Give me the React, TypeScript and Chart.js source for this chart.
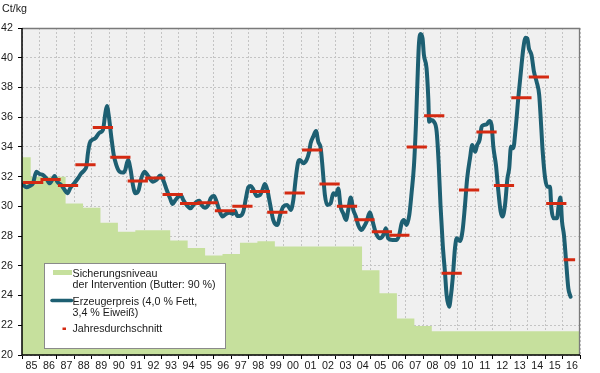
import React, { useEffect, useRef } from 'react';
import { Chart, registerables } from 'chart.js';

Chart.register(...registerables);

// ---- data ----
const yearLabels = ['85','86','87','88','89','90','91','92','93','94','95','96','97','98','99','00','01','02','03','04','05','06','07','08','09','10','11','12','13','14','15','16'];
const firstYear = 1985;
const lastYear = 2017;

// intervention support level (step changes, [year, Ct/kg])
const supportLevel: number[][] = [
  [1985.0, 33.3], [1985.5, 32.0], [1987.5, 30.2], [1988.5, 29.9], [1989.5, 28.9],
  [1990.5, 28.3], [1991.5, 28.4], [1993.5, 27.7], [1994.5, 27.2], [1995.5, 26.7],
  [1996.5, 26.8], [1997.5, 27.55], [1998.5, 27.65], [1999.5, 27.3], [2004.5, 25.7],
  [2005.5, 24.15], [2006.5, 22.45], [2007.5, 21.95], [2008.5, 21.6], [2017.0, 21.6],
];

// producer price ([year, Ct/kg])
const producerPrice: number[][] = [
  [1985.0,31.45],[1985.06,31.44],[1985.25,31.28],[1985.44,31.37],[1985.63,31.55],[1985.82,32.33],
  [1986.01,32.18],[1986.2,32.11],[1986.39,31.89],[1986.59,31.55],[1986.78,31.89],[1986.87,32.04],
  [1987.02,31.66],[1987.25,31.44],[1987.45,31.1],[1987.6,30.88],[1987.79,31.28],[1988.02,31.59],
  [1988.21,31.89],[1988.4,32.22],[1988.59,32.45],[1988.69,32.67],[1988.78,33.57],[1988.88,34.24],
  [1989.01,34.46],[1989.2,34.58],[1989.45,34.96],[1989.64,35.14],[1989.78,36.26],[1989.87,36.75],
  [1989.97,36.15],[1990.12,34.69],[1990.26,33.46],[1990.41,32.78],[1990.6,32.33],[1990.79,32.27],
  [1990.92,32.45],[1991.08,33.12],[1991.23,32.45],[1991.36,31.44],[1991.5,30.88],[1991.69,31.1],
  [1991.84,31.89],[1992.03,32.33],[1992.26,32.0],[1992.51,31.66],[1992.7,31.77],[1992.93,32.08],
  [1993.1,31.77],[1993.3,31.1],[1993.49,30.54],[1993.64,30.16],[1993.77,30.38],[1993.96,30.65],
  [1994.1,30.76],[1994.25,30.43],[1994.44,30.09],[1994.67,29.87],[1994.82,30.09],[1995.02,30.31],
  [1995.17,30.38],[1995.3,30.09],[1995.49,29.91],[1995.68,30.09],[1995.82,30.54],[1996.01,30.7],
  [1996.16,30.31],[1996.31,29.76],[1996.5,29.31],[1996.7,29.49],[1996.89,29.57],[1997.08,29.49],
  [1997.21,29.71],[1997.35,29.35],[1997.5,29.35],[1997.69,29.64],[1997.84,30.54],[1997.98,31.28],
  [1998.11,31.37],[1998.26,31.15],[1998.46,30.7],[1998.65,30.76],[1998.8,31.15],[1998.93,31.5],
  [1999.07,31.1],[1999.22,30.2],[1999.41,29.08],[1999.64,28.75],[1999.83,29.53],[1999.98,29.98],
  [2000.21,30.09],[2000.41,29.76],[2000.56,30.43],[2000.71,32.0],[2000.84,33.0],[2000.94,33.12],
  [2001.04,33.0],[2001.13,32.9],[2001.32,33.12],[2001.47,33.68],[2001.55,34.24],[2001.7,34.69],
  [2001.86,35.07],[2001.99,34.35],[2002.13,33.91],[2002.24,32.56],[2002.37,30.76],[2002.5,30.09],
  [2002.7,30.2],[2002.85,30.88],[2003.0,30.76],[2003.14,31.21],[2003.27,29.98],[2003.42,29.53],
  [2003.58,29.08],[2003.71,29.76],[2003.85,30.59],[2004.0,29.76],[2004.15,29.31],[2004.28,28.75],
  [2004.48,28.41],[2004.61,28.63],[2004.76,28.97],[2004.95,29.6],[2005.11,28.97],[2005.3,28.19],
  [2005.53,27.85],[2005.72,28.07],[2005.87,28.52],[2006.0,27.85],[2006.25,27.74],[2006.48,27.74],
  [2006.63,28.07],[2006.77,28.86],[2006.9,29.08],[2007.06,28.75],[2007.21,29.42],[2007.34,30.88],
  [2007.48,32.78],[2007.59,35.47],[2007.67,38.16],[2007.76,40.86],[2007.86,41.6],[2007.97,41.3],
  [2008.05,40.18],[2008.2,39.29],[2008.3,37.27],[2008.35,35.7],[2008.49,35.81],[2008.62,35.7],
  [2008.78,35.02],[2008.9,32.78],[2009.0,30.09],[2009.13,27.4],[2009.26,25.5],[2009.35,24.04],
  [2009.5,23.25],[2009.58,23.81],[2009.7,25.16],[2009.83,27.18],[2009.93,27.85],[2010.12,27.67],
  [2010.27,28.41],[2010.39,29.87],[2010.53,31.89],[2010.69,33.23],[2010.82,34.13],[2010.99,33.68],
  [2011.1,34.13],[2011.24,34.46],[2011.36,35.36],[2011.47,35.47],[2011.65,35.52],[2011.8,35.74],
  [2011.93,35.47],[2012.03,34.01],[2012.18,32.78],[2012.32,30.99],[2012.45,29.64],[2012.56,29.31],
  [2012.7,30.09],[2012.84,31.89],[2012.94,32.56],[2013.04,34.01],[2013.17,33.91],[2013.31,35.25],
  [2013.46,37.27],[2013.61,39.06],[2013.75,40.63],[2013.88,41.35],[2013.98,41.3],[2014.07,40.63],
  [2014.22,40.18],[2014.36,39.06],[2014.51,38.39],[2014.66,37.49],[2014.77,35.47],[2014.86,33.68],
  [2015.0,31.89],[2015.12,31.32],[2015.28,31.32],[2015.36,29.87],[2015.48,29.2],[2015.68,29.2],
  [2015.78,30.09],[2015.88,30.59],[2015.97,28.97],[2016.08,28.07],[2016.19,26.5],[2016.33,24.49],
  [2016.46,23.92],
];

// annual averages, one per year label
const annualAverage = [31.6,31.8,31.4,32.8,35.3,33.3,31.7,31.9,30.8,30.2,30.25,29.7,30.0,31.0,29.6,30.9,33.8,31.5,30.0,29.1,28.3,28.05,34.0,36.1,25.5,31.1,35.0,31.4,37.3,38.7,30.2,26.4];

const unitLabel = 'Ct/kg';
const legendSupport = ['Sicherungsniveau', 'der Intervention (Butter: 90 %)'];
const legendPrice = ['Erzeugerpreis (4,0 % Fett,', '3,4 % Eiweiß)'];
const legendAverage = ['Jahresdurchschnitt'];

// ---- styles ----
const GREEN = '#c6e09d';
const BLUE = '#1d5f72';
const RED = '#d42a12';
const FONT_FAMILY = '"Liberation Sans", Arial, sans-serif';
const FONT_SIZE = 10.7;

const framePlugin = {
  id: 'frame',
  beforeDraw(chart: any) {
    const { ctx, chartArea: a } = chart;
    ctx.save();
    ctx.fillStyle = '#f0f0f0';
    ctx.fillRect(a.left, a.top, a.right - a.left, a.bottom - a.top);
    ctx.restore();
  },
  afterDraw(chart: any) {
    const { ctx, chartArea: a } = chart;
    ctx.save();
    // top & right frame
    ctx.strokeStyle = '#7a7a7a';
    ctx.lineWidth = 1.3;
    ctx.beginPath();
    ctx.moveTo(a.left, a.top + 0.5);
    ctx.lineTo(a.right - 0.5, a.top + 0.5);
    ctx.lineTo(a.right - 0.5, a.bottom);
    ctx.stroke();
    // axes
    ctx.strokeStyle = '#000';
    ctx.lineWidth = 1.5;
    ctx.beginPath();
    ctx.moveTo(a.left, a.top);
    ctx.lineTo(a.left, a.bottom);
    ctx.lineTo(a.right, a.bottom);
    ctx.stroke();

    // unit label
    ctx.fillStyle = '#1a1a1a';
    ctx.font = `${FONT_SIZE}px ${FONT_FAMILY}`;
    ctx.textBaseline = 'alphabetic';
    ctx.textAlign = 'left';
    ctx.fillText(unitLabel, 2, 12);

    // legend box
    const bx = 44.5, by = 263.5, bw = 181, bh = 85;
    ctx.fillStyle = '#ffffff';
    ctx.fillRect(bx, by, bw, bh);
    ctx.strokeStyle = '#8a8a8a';
    ctx.lineWidth = 1;
    ctx.strokeRect(bx, by, bw, bh);

    ctx.fillStyle = GREEN;
    ctx.fillRect(53, 270, 19, 5);

    ctx.strokeStyle = BLUE;
    ctx.lineWidth = 3.5;
    ctx.lineCap = 'round';
    ctx.beginPath();
    ctx.moveTo(52, 300.5);
    ctx.lineTo(71.5, 300.5);
    ctx.stroke();

    ctx.fillStyle = RED;
    ctx.fillRect(62.5, 327.5, 3.5, 2.5);

    ctx.fillStyle = '#1a1a1a';
    const tx = 72.5;
    ctx.fillText(legendSupport[0], tx, 277.3);
    ctx.fillText(legendSupport[1], tx, 288.3);
    ctx.fillText(legendPrice[0], tx, 304.7);
    ctx.fillText(legendPrice[1], tx, 316.2);
    ctx.fillText(legendAverage[0], tx, 332);
    ctx.restore();
  },
};

export default function App() {
  const ref = useRef<HTMLCanvasElement | null>(null);

  useEffect(() => {
    if (!ref.current) return;

    const supportData = supportLevel.map(([x, y]) => ({ x, y }));
    const priceData = producerPrice.map(([x, y]) => ({ x, y }));
    const avgData: { x: number; y: number | null }[] = [];
    annualAverage.forEach((v, i) => {
      const y0 = firstYear + i;
      const x0 = y0 + 0.06;
      const x1 = i === annualAverage.length - 1 ? y0 + 0.72 : y0 + 1.22;
      avgData.push({ x: x0, y: v }, { x: x1, y: v }, { x: x1, y: null });
    });

    const chart = new Chart(ref.current, {
      type: 'line',
      data: {
        datasets: [
          {
            label: 'Jahresdurchschnitt',
            data: avgData,
            borderColor: RED,
            borderWidth: 3,
            pointRadius: 0,
            spanGaps: false,
            borderCapStyle: 'butt',
            order: 1,
          },
          {
            label: 'Erzeugerpreis',
            data: priceData,
            borderColor: BLUE,
            borderWidth: 4,
            pointRadius: 0,
            cubicInterpolationMode: 'monotone',
            borderCapStyle: 'round',
            borderJoinStyle: 'round',
            order: 2,
          },
          {
            label: 'Sicherungsniveau',
            data: supportData,
            stepped: true,
            borderWidth: 0,
            borderColor: 'rgba(0,0,0,0)',
            backgroundColor: GREEN,
            fill: 'start',
            pointRadius: 0,
            order: 3,
          },
        ],
      } as any,
      options: {
        responsive: false,
        animation: false,
        events: [],
        layout: { padding: { top: 28, right: 20, left: 0, bottom: 0 } },
        plugins: {
          legend: { display: false },
          tooltip: { enabled: false },
        },
        scales: {
          x: {
            type: 'linear',
            min: firstYear,
            max: lastYear,
            afterFit: (s: any) => { s.height = 18; },
            grid: {
              color: '#c4c4c4',
              lineWidth: 1,
              tickColor: '#000',
              tickLength: 4,
              tickWidth: 1,
              tickBorderDash: [],
            },
            border: { display: false, dash: [2, 2] },
            ticks: {
              stepSize: 1,
              autoSkip: false,
              maxRotation: 0,
              minRotation: 0,
              labelOffset: 9.5,
              padding: 1,
              color: '#1a1a1a',
              font: { family: FONT_FAMILY, size: FONT_SIZE },
              callback: (v: any) => {
                const i = Math.round(Number(v)) - firstYear;
                return yearLabels[i] ?? '';
              },
            },
          },
          y: {
            type: 'linear',
            min: 20,
            max: 42,
            afterFit: (s: any) => { s.width = 22; },
            grid: {
              color: '#c4c4c4',
              lineWidth: 1,
              tickColor: '#000',
              tickLength: 4,
              tickWidth: 1,
              tickBorderDash: [],
            },
            border: { display: false, dash: [2, 2] },
            ticks: {
              stepSize: 2,
              padding: 5,
              color: '#1a1a1a',
              font: { family: FONT_FAMILY, size: FONT_SIZE },
              callback: (v: any) => String(v),
            },
          },
        },
      } as any,
      plugins: [framePlugin],
    });

    return () => chart.destroy();
  }, []);

  return (
    <div style={{ position: 'fixed', left: 0, top: 0, width: 600, height: 373, background: '#fff' }}>
      <canvas ref={ref} width={600} height={373} style={{ display: 'block', width: 600, height: 373 }} />
    </div>
  );
}
